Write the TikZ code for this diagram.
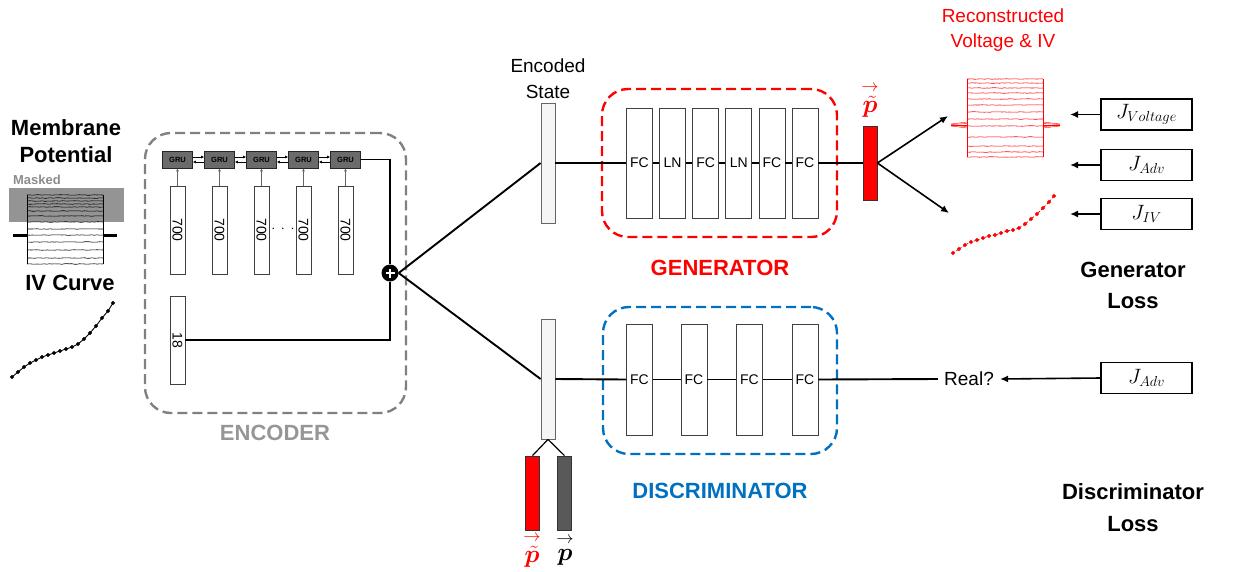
\documentclass[tikz,border=0pt]{standalone}
\usepackage{fontspec}
\setmainfont{Liberation Sans}
\usepackage{amsmath,bm,graphicx}
\usetikzlibrary{arrows.meta,decorations.pathmorphing}
\definecolor{gred}{RGB}{255,0,0}
\definecolor{dblue}{RGB}{0,112,192}
\definecolor{encgrey}{RGB}{128,128,128}
\definecolor{enctext}{RGB}{150,150,150}
\newcommand{\fs}[1]{\fontsize{#1}{#1}\selectfont}
\newcommand{\ptilde}{\overset{\rightarrow}{\tilde{\bm p}}}
\newcommand{\preal}{\overset{\rightarrow}{\bm p}}
\begin{document}
\begin{tikzpicture}[x=1pt,y=-1pt,
  conn/.style={line width=1.9pt},
  bigbold/.style={font=\fs{22}\bfseries, inner sep=0},
  midtext/.style={font=\fs{19}, inner sep=0},
  layer/.style={draw=black!75, fill=white, line width=0.8pt, minimum width=26pt, minimum height=110pt, inner sep=0, font=\fs{14}},
  grubox/.style={draw=black!85, fill=black!58, line width=0.7pt, minimum width=30pt, minimum height=17pt, inner sep=0, font=\fs{7.5}\bfseries},
  vbox/.style={draw=black!75, fill=white, line width=0.8pt, minimum width=15pt, minimum height=88pt, inner sep=0, font=\fs{14}},
  esbox/.style={draw=black!60, fill=black!4, line width=0.8pt, minimum width=14pt, minimum height=120pt, inner sep=0},
  pbox/.style={draw=black!80, line width=0.8pt, minimum width=14pt, minimum height=74pt, inner sep=0},
  jbox/.style={draw=black, line width=1.1pt, minimum width=91pt, minimum height=31pt, inner sep=0, font=\fs{21}},
  dashbox/.style={dashed, dash pattern=on 10pt off 5pt, line width=2.4pt, rounded corners=26pt, inner sep=0},
  tr/.style={line width=0.55pt, decorate, decoration={random steps, segment length=2.5pt, amplitude=0.3pt}},
  arr/.style={line width=1.6pt, -{Latex[length=8pt,width=7pt]}}
]
\path[use as bounding box] (0,0) rectangle (1247,571);
\pgfmathsetseed{7}

% ---------- left inputs ----------
\node[bigbold] (mem) at (66,128) {Membrane};
\node[bigbold] (pot) at (66,155) {Potential};
\node[font=\fs{13}\bfseries, text=black!45, inner sep=0] (msk) at (37,180) {Masked};
\fill[black!42] (9,188) rectangle (124,222);
\foreach \l in {195,198,201,204,207,211,216,222,229,242,250,258,264}{
  \draw[black, line width=0.5pt] (27,235) -- (27,\l);
  \draw[tr, black] (27,\l) -- (103,\l);
  \draw[black, line width=0.5pt] (103,\l) -- (103,235);
}
\foreach \d in {-1.2,-0.4,0.4,1.2}{
  \draw[black, line width=0.6pt] (13,235+\d) -- (27,235+\d);
  \draw[black, line width=0.6pt] (103,235+\d) -- (117,235+\d);
}
\draw[tr, black] (27,235) -- (103,235);
\node[bigbold] (ivc) at (70,283) {IV Curve};
\begin{scope}[shift={(12,377)}]
\draw[line width=0.9pt] plot[mark=*, mark size=1.6pt] coordinates {(0,0) (6,-5) (12,-10) (18,-14) (24,-17) (30,-20) (36,-22) (42,-24) (48,-26) (54,-28) (60,-30) (66,-33) (72,-38) (78,-44) (84,-51) (90,-59) (96,-66) (101,-74)};
\end{scope}

% ---------- encoder ----------
\node[dashbox, draw=encgrey, minimum width=261pt, minimum height=280pt] (enc) at (275.5,273) {};
\node[bigbold, text=enctext] (enct) at (275,433) {ENCODER};
\foreach \i in {0,...,4}{
  \node[grubox] (g\i) at (177.5+42*\i,159.5) {GRU};
}
\foreach \i in {0,1,2,3,4}{
  \node[vbox] (v\i) at (177.5+42*\i,230) {\rotatebox{-90}{700}};
  \draw[black!60, line width=0.8pt, -{Latex[length=3pt,width=3pt]}] (v\i.north) -- (g\i.south);
}
\foreach \i/\j in {0/1,1/2,2/3,3/4}{
  \draw[line width=0.6pt, -{Latex[length=3pt,width=3pt]}] ([yshift=2.5pt]g\i.east) -- ([yshift=2.5pt]g\j.west);
  \draw[line width=0.6pt, -{Latex[length=3pt,width=3pt]}] ([yshift=-2.5pt]g\j.west) -- ([yshift=-2.5pt]g\i.east);
}
\node[font=\fs{14}, inner sep=0] (dots) at (283,229) {$\cdot\,\cdot\,\cdot$};
\node[vbox] (v18) at (177.5,340) {\rotatebox{-90}{18}};
\node[circle, fill=black, minimum size=17pt, inner sep=0] (plus) at (390,273) {};
\draw[white, line width=2pt] ([xshift=-4.5pt]plus.center) -- ([xshift=4.5pt]plus.center);
\draw[white, line width=2pt] ([yshift=-4.5pt]plus.center) -- ([yshift=4.5pt]plus.center);
\draw[line width=1.3pt] (g4.east) -| (plus.north);
\draw[line width=1.3pt] (v18.east) -| (plus.south);

% ---------- encoded states ----------
\node[midtext] (es1t) at (548,66) {Encoded};
\node[midtext] (es2t) at (548,92) {State};
\node[esbox] (es1) at (548,163) {};
\node[esbox] (es2) at (548,379) {};
\draw[conn] (plus.east) -- (es1.west);
\draw[conn] (plus.east) -- (es2.west);

% ---------- generator ----------
\node[dashbox, draw=gred, minimum width=235pt, minimum height=148pt] (genbox) at (719.5,163) {};
\node[layer] (l1) at (639.5,163) {FC};
\node[layer] (l2) at (672.6,163) {LN};
\node[layer] (l3) at (705.7,163) {FC};
\node[layer] (l4) at (738.8,163) {LN};
\node[layer] (l5) at (771.9,163) {FC};
\node[layer] (l6) at (805,163) {FC};
\node[pbox, fill=gred] (pbar) at (870,163) {};
\draw[conn] (es1.east) -- (l1.west);
\draw[conn] (l1.east) -- (l2.west);
\draw[conn] (l2.east) -- (l3.west);
\draw[conn] (l3.east) -- (l4.west);
\draw[conn] (l4.east) -- (l5.west);
\draw[conn] (l5.east) -- (l6.west);
\draw[conn] (l6.east) -- (pbar.west);
\node[text=gred, font=\fs{27}, inner sep=0] (pl1) at (870,100) {$\ptilde$};
\node[bigbold, text=gred] (gent) at (720,268) {GENERATOR};

\coordinate (rv) at (948,116);
\coordinate (riv) at (949,213);
\draw[arr] (pbar.east) -- (rv);
\draw[arr] (pbar.east) -- (riv);

% reconstructed traces
\node[midtext, text=gred] (rec1) at (1003,16) {Reconstructed};
\node[midtext, text=gred] (rec2) at (1003,43) {Voltage \& IV};
\foreach \l in {79,83,88,93,99,105,112,119,137,146,152,157}{
  \draw[gred, line width=0.5pt] (967,125) -- (967,\l);
  \draw[tr, gred] (967,\l) -- (1043,\l);
  \draw[gred, line width=0.5pt] (1043,\l) -- (1043,125);
}
\draw[tr, gred] (967,126) -- (1043,126);
\foreach \d in {-3,-1.5,0,1.5,3}{
  \draw[gred, line width=0.4pt] (951,125+\d/3) -- (967,125+\d);
  \draw[gred, line width=0.4pt] (1043,125+\d) -- (1060,125+\d/3);
}
\begin{scope}[shift={(953,253)}]
\draw[gred, line width=0.8pt, dash pattern=on 2pt off 2pt] plot[mark=*, mark size=1.6pt, mark options={solid}] coordinates {(0,0) (6,-4) (12,-8) (18,-11) (24,-13) (30,-15) (36,-17) (42,-18) (48,-20) (54,-22) (60,-23) (66,-25) (72,-29) (78,-34) (84,-39) (90,-45) (96,-51) (101,-57)};
\end{scope}

% generator losses
\node[jbox] (jv) at (1146.5,114.5) {$J_{Voltage}$};
\node[jbox] (ja) at (1146.5,165) {$J_{Adv}$};
\node[jbox] (ji) at (1146.5,214) {$J_{IV}$};
\coordinate (av) at (1070,114.5);
\coordinate (aa) at (1070,165);
\coordinate (ai) at (1070,214);
\draw[arr] (jv.west) -- (av);
\draw[arr] (ja.west) -- (aa);
\draw[arr] (ji.west) -- (ai);
\node[bigbold] (gl1) at (1133,270) {Generator};
\node[bigbold] (gl2) at (1133,301) {Loss};

% ---------- discriminator ----------
\node[dashbox, draw=dblue, minimum width=234pt, minimum height=147pt] (disbox) at (720,380.5) {};
\node[layer, minimum height=111pt] (d1) at (639.5,379.5) {FC};
\node[layer, minimum height=111pt] (d2) at (694,379.5) {FC};
\node[layer, minimum height=111pt] (d3) at (749.5,379.5) {FC};
\node[layer, minimum height=111pt] (d4) at (805,379.5) {FC};
\node[midtext] (real) at (969,379) {Real?};
\draw[conn] (es2.east) -- (d1.west);
\draw[conn] (d1.east) -- (d2.west);
\draw[conn] (d2.east) -- (d3.west);
\draw[conn] (d3.east) -- (d4.west);
\draw[conn] (d4.east) -- ([xshift=-6pt]real.west);
\node[jbox] (jd) at (1146.5,378) {$J_{Adv}$};
\draw[arr] (jd.west) -- ([xshift=6pt]real.east);
\node[bigbold, text=dblue] (dist) at (720,491) {DISCRIMINATOR};
\node[bigbold] (dl1) at (1133,492) {Discriminator};
\node[bigbold] (dl2) at (1133,524) {Loss};

% real / fake vectors
\node[pbox, fill=gred] (pr) at (532.5,493) {};
\node[pbox, fill=black!65] (pg) at (564.5,493) {};
\draw[line width=1.2pt] (es2.south) -- (pr.north);
\draw[line width=1.2pt] (es2.south) -- (pg.north);
\node[text=gred, font=\fs{27}, inner sep=0] (prl) at (532,550) {$\ptilde$};
\node[font=\fs{27}, inner sep=0] (pgl) at (565,550) {$\preal$};
\end{tikzpicture}
\end{document}
